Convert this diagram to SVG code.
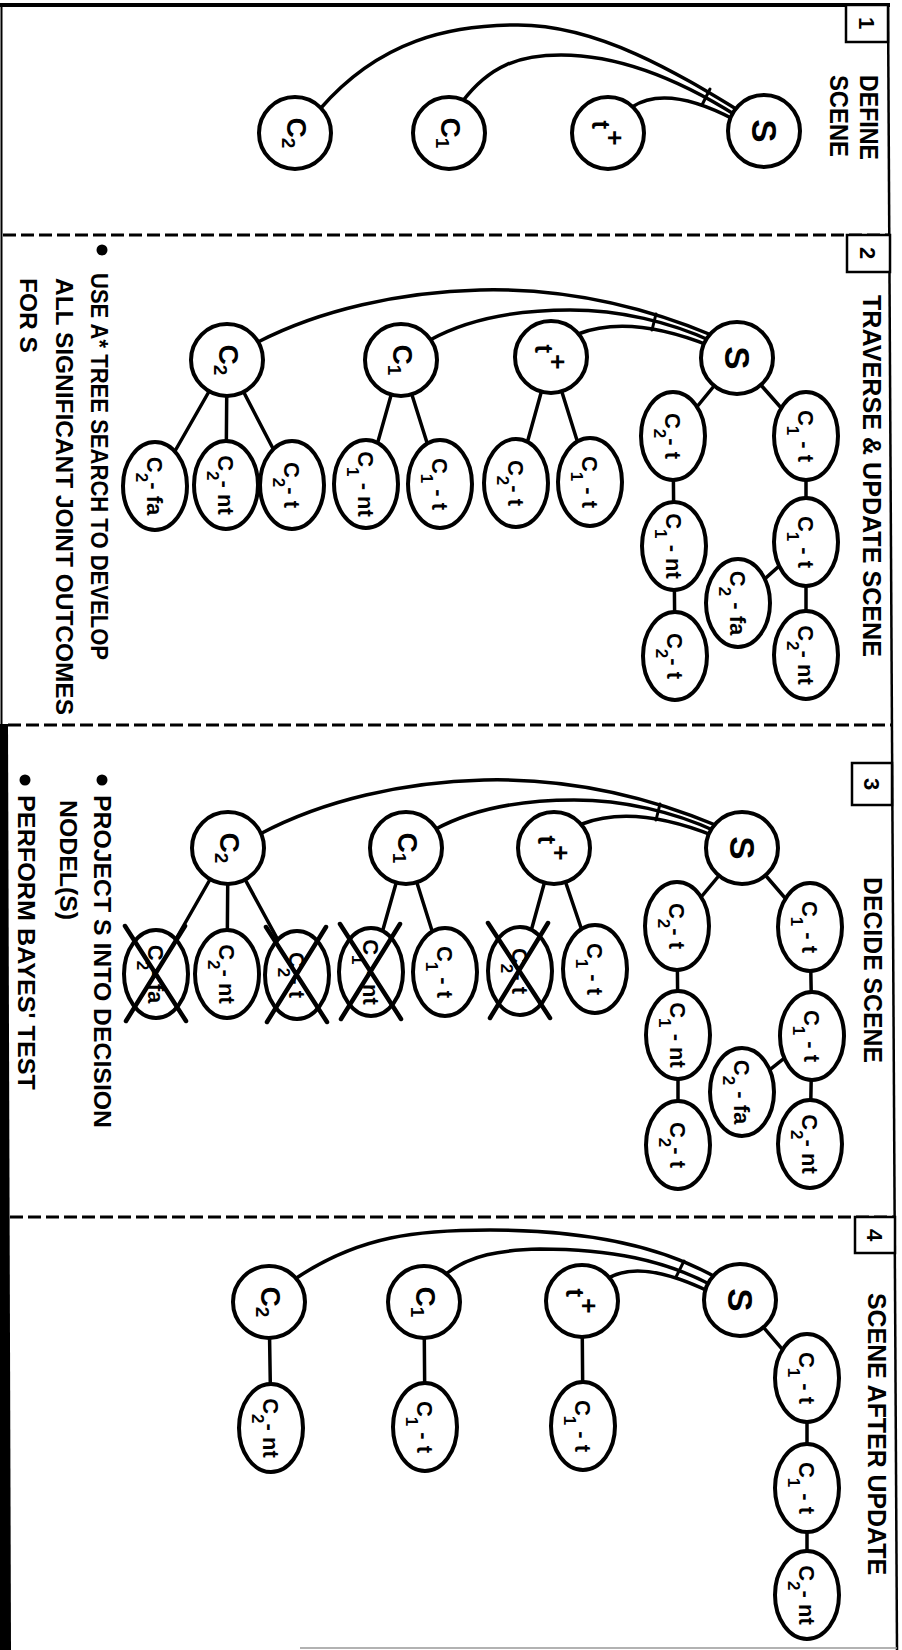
<svg xmlns="http://www.w3.org/2000/svg" width="902" height="1650" viewBox="0 0 902 1650">
<defs>
<style>
.frame{fill:none;stroke:#000;stroke-width:2.5}
.dash{fill:none;stroke:#000;stroke-width:3.2;stroke-dasharray:13 5}
.box{fill:#fff;stroke:#000;stroke-width:2.5}
.e{fill:none;stroke:#000;stroke-width:3.5;stroke-linecap:round}
.n{fill:#fff;stroke:#000;stroke-width:4}
.x{fill:none;stroke:#000;stroke-width:4.5;stroke-linecap:round}
text{font-family:"Liberation Sans",Arial,Helvetica,sans-serif;font-weight:bold;fill:#000}
.h{font-size:25px}
.b{font-size:24px}
.num{font-size:22px}
.big{font-size:28px}
.tp{font-size:26px}
.s{font-size:35px}
.sm{font-size:22px}
.sub{font-size:17px}
.bsub{font-size:19px}
</style>
</defs>
<rect width="902" height="1650" fill="#fff"/>

<g id="frame">
<line class="frame" x1="0" y1="5" x2="890" y2="5" style="stroke-width:4"/>
<line class="frame" x1="888" y1="3" x2="897" y2="1650"/>
<line class="frame" x1="1.5" y1="3" x2="1.5" y2="724" style="stroke-width:2"/>
<path d="M0 724 L8 724 L11 1650 L0 1650 Z" fill="#000"/>
<line x1="300" y1="1648" x2="897" y2="1648" stroke="#999" stroke-width="1.5"/>
<line class="dash" x1="3" y1="235" x2="889" y2="235"/>
<line class="dash" x1="8" y1="725" x2="892" y2="725"/>
<line class="dash" x1="10" y1="1217" x2="894" y2="1217"/>
</g>

<g id="titles">
<rect class="box" x="846" y="5" width="42" height="37"/>
<text class="num" text-anchor="middle" transform="translate(867,23) rotate(90)" y="8">1</text>
<rect class="box" x="847" y="235" width="43" height="37"/>
<text class="num" text-anchor="middle" transform="translate(868,253) rotate(90)" y="8">2</text>
<rect class="box" x="852" y="763" width="40" height="42"/>
<text class="num" text-anchor="middle" transform="translate(872,784) rotate(90)" y="8">3</text>
<rect class="box" x="855" y="1217" width="40" height="36"/>
<text class="num" text-anchor="middle" transform="translate(875,1235) rotate(90)" y="8">4</text>
<text class="h" transform="translate(869,75) rotate(90)" y="9" textLength="85" lengthAdjust="spacingAndGlyphs">DEFINE</text>
<text class="h" transform="translate(839,75) rotate(90)" y="9" textLength="82" lengthAdjust="spacingAndGlyphs">SCENE</text>
<text class="h" transform="translate(872,295) rotate(90)" y="9" textLength="362" lengthAdjust="spacingAndGlyphs">TRAVERSE &amp; UPDATE SCENE</text>
<text class="h" transform="translate(873,877) rotate(90)" y="9" textLength="186" lengthAdjust="spacingAndGlyphs">DECIDE SCENE</text>
<text class="h" transform="translate(877,1293) rotate(90)" y="9" textLength="282" lengthAdjust="spacingAndGlyphs">SCENE AFTER UPDATE</text>
</g>

<g id="notes">
<circle cx="102" cy="250" r="5.5" fill="#000"/>
<text class="b" transform="translate(100,273) rotate(90)" y="9" textLength="387" lengthAdjust="spacingAndGlyphs">USE A* TREE SEARCH TO DEVELOP</text>
<text class="b" transform="translate(65,278) rotate(90)" y="9" textLength="437" lengthAdjust="spacingAndGlyphs">ALL SIGNIFICANT JOINT OUTCOMES</text>
<text class="b" transform="translate(29,278) rotate(90)" y="9" textLength="75" lengthAdjust="spacingAndGlyphs">FOR S</text>
<circle cx="102" cy="780" r="5.5" fill="#000"/>
<text class="b" transform="translate(103,795) rotate(90)" y="9" textLength="333" lengthAdjust="spacingAndGlyphs">PROJECT S INTO DECISION</text>
<text class="b" transform="translate(69,800) rotate(90)" y="9" textLength="120" lengthAdjust="spacingAndGlyphs">NODEL(S)</text>
<circle cx="25" cy="780" r="5.5" fill="#000"/>
<text class="b" transform="translate(27,795) rotate(90)" y="9" textLength="295" lengthAdjust="spacingAndGlyphs">PERFORM BAYES' TEST</text>
</g>

<g id="connectors">
<!-- panel 1 -->
<path class="e" d="M320 109 C380 40 450 25 518 25 C600 25 682 76 741 112"/>
<path class="e" d="M462 102 C490 65 520 55 561 55 C620 55 680 80 737 116"/>
<path class="e" d="M632 107 Q667 84 735 120"/>
<line class="e" x1="702" y1="105" x2="710" y2="89" style="stroke-width:3"/>
<!-- panel 2 -->
<path class="e" d="M258 342 C320 310 400 292 480 290 C560 288 640 305 714 336"/>
<path class="e" d="M430 340 C470 318 520 310 570 310 C620 310 670 322 711 341"/>
<path class="e" d="M578 334 Q630 314 710 346"/>
<line class="e" x1="652" y1="330" x2="656" y2="314" style="stroke-width:3"/>
<line class="e" x1="737" y1="358" x2="806" y2="436"/>
<line class="e" x1="737" y1="358" x2="673" y2="436"/>
<line class="e" x1="806" y1="436" x2="806" y2="542"/>
<line class="e" x1="806" y1="542" x2="806" y2="655"/>
<line class="e" x1="806" y1="542" x2="738" y2="603"/>
<line class="e" x1="673" y1="436" x2="674" y2="546"/>
<line class="e" x1="674" y1="546" x2="675" y2="656"/>
<line class="e" x1="551" y1="357" x2="590" y2="482"/>
<line class="e" x1="551" y1="357" x2="516" y2="483"/>
<line class="e" x1="401" y1="360" x2="440" y2="484"/>
<line class="e" x1="401" y1="360" x2="366" y2="484"/>
<line class="e" x1="227" y1="360" x2="292" y2="485"/>
<line class="e" x1="227" y1="360" x2="226" y2="485"/>
<line class="e" x1="227" y1="360" x2="155" y2="486"/>
<!-- panel 3 -->
<path class="e" d="M260 834 C324 800 404 782 484 780 C564 778 644 795 718 826"/>
<path class="e" d="M434 830 C474 808 524 800 574 800 C624 800 674 812 715 831"/>
<path class="e" d="M582 824 Q634 804 714 836"/>
<line class="e" x1="656" y1="820" x2="660" y2="804" style="stroke-width:3"/>
<line class="e" x1="742" y1="848" x2="810" y2="927"/>
<line class="e" x1="742" y1="848" x2="677" y2="926"/>
<line class="e" x1="810" y1="927" x2="812" y2="1036"/>
<line class="e" x1="812" y1="1036" x2="810" y2="1144"/>
<line class="e" x1="812" y1="1036" x2="742" y2="1092"/>
<line class="e" x1="677" y1="926" x2="678" y2="1035"/>
<line class="e" x1="678" y1="1035" x2="678" y2="1145"/>
<line class="e" x1="554" y1="848" x2="595" y2="969"/>
<line class="e" x1="554" y1="848" x2="520" y2="971"/>
<line class="e" x1="406" y1="848" x2="445" y2="972"/>
<line class="e" x1="406" y1="848" x2="371" y2="972"/>
<line class="e" x1="228" y1="848" x2="297" y2="975"/>
<line class="e" x1="228" y1="848" x2="227" y2="974"/>
<line class="e" x1="228" y1="848" x2="156" y2="974"/>
<!-- panel 4 -->
<path class="e" d="M295 1279 C360 1235 420 1230 490 1230 C580 1230 660 1245 717 1278"/>
<path class="e" d="M446 1274 C470 1255 500 1250 540 1249 C610 1249 665 1260 713 1286"/>
<path class="e" d="M607 1279 Q640 1258 710 1292"/>
<line class="e" x1="676" y1="1277" x2="684" y2="1261" style="stroke-width:3"/>
<line class="e" x1="740" y1="1300" x2="807" y2="1378"/>
<line class="e" x1="807" y1="1378" x2="807" y2="1488"/>
<line class="e" x1="807" y1="1488" x2="807" y2="1595"/>
<line class="e" x1="582" y1="1301" x2="583" y2="1426"/>
<line class="e" x1="424" y1="1302" x2="425" y2="1427"/>
<line class="e" x1="269" y1="1302" x2="271" y2="1428"/>
</g>

<!-- Panel 1 nodes -->
<g id="p1-S"><circle class="n" cx="764" cy="131" r="36"/><text class="s" text-anchor="middle" transform="translate(764,131) rotate(90)" y="12">S</text></g>
<g id="p1-tplus"><circle class="n" cx="608" cy="133" r="36"/><text class="tp" text-anchor="middle" transform="translate(608,133) rotate(90)" y="16">t<tspan dx="1" dy="-14">+</tspan></text></g>
<g id="p1-C1"><circle class="n" cx="449" cy="133" r="36"/><text class="big" text-anchor="middle" transform="translate(449,133) rotate(90)" y="8">C<tspan class="bsub" dy="5">1</tspan></text></g>
<g id="p1-C2"><circle class="n" cx="295" cy="133" r="36"/><text class="big" text-anchor="middle" transform="translate(295,133) rotate(90)" y="8">C<tspan class="bsub" dy="5">2</tspan></text></g>

<!-- Panel 2 nodes -->
<g id="p2-S"><circle class="n" cx="737" cy="358" r="36"/><text class="s" text-anchor="middle" transform="translate(737,358) rotate(90)" y="12">S</text></g>
<g id="p2-tplus"><circle class="n" cx="551" cy="357" r="36"/><text class="tp" text-anchor="middle" transform="translate(551,357) rotate(90)" y="16">t<tspan dx="1" dy="-14">+</tspan></text></g>
<g id="p2-C1"><circle class="n" cx="401" cy="360" r="36"/><text class="big" text-anchor="middle" transform="translate(401,360) rotate(90)" y="8">C<tspan class="bsub" dy="5">1</tspan></text></g>
<g id="p2-C2"><circle class="n" cx="227" cy="360" r="36"/><text class="big" text-anchor="middle" transform="translate(227,360) rotate(90)" y="8">C<tspan class="bsub" dy="5">2</tspan></text></g>
<g id="p2-S-c1t"><ellipse class="n" cx="806" cy="436" rx="32" ry="44"/><text class="sm" text-anchor="middle" transform="translate(806,436) rotate(90)" y="8">C<tspan class="sub" dy="11">1</tspan><tspan dy="-11">&#160;- t</tspan></text></g>
<g id="p2-S-c1t-2"><ellipse class="n" cx="806" cy="542" rx="32" ry="44"/><text class="sm" text-anchor="middle" transform="translate(806,542) rotate(90)" y="8">C<tspan class="sub" dy="11">1</tspan><tspan dy="-11">&#160;- t</tspan></text></g>
<g id="p2-S-c2nt"><ellipse class="n" cx="806" cy="655" rx="32" ry="44"/><text class="sm" text-anchor="middle" transform="translate(806,655) rotate(90)" y="8">C<tspan class="sub" dy="11">2</tspan><tspan dy="-11">- nt</tspan></text></g>
<g id="p2-S-c2fa"><ellipse class="n" cx="738" cy="603" rx="32" ry="44"/><text class="sm" text-anchor="middle" transform="translate(738,603) rotate(90)" y="8">C<tspan class="sub" dy="11">2</tspan><tspan dy="-11">&#160;- fa</tspan></text></g>
<g id="p2-S-c2t"><ellipse class="n" cx="673" cy="436" rx="32" ry="44"/><text class="sm" text-anchor="middle" transform="translate(673,436) rotate(90)" y="8">C<tspan class="sub" dy="11">2</tspan><tspan dy="-11">- t</tspan></text></g>
<g id="p2-S-c1nt"><ellipse class="n" cx="674" cy="546" rx="32" ry="44"/><text class="sm" text-anchor="middle" transform="translate(674,546) rotate(90)" y="8">C<tspan class="sub" dy="11">1</tspan><tspan dy="-11">&#160;- nt</tspan></text></g>
<g id="p2-S-c2t-2"><ellipse class="n" cx="675" cy="656" rx="32" ry="44"/><text class="sm" text-anchor="middle" transform="translate(675,656) rotate(90)" y="8">C<tspan class="sub" dy="11">2</tspan><tspan dy="-11">- t</tspan></text></g>
<g id="p2-t-c1t"><ellipse class="n" cx="590" cy="482" rx="32" ry="44"/><text class="sm" text-anchor="middle" transform="translate(590,482) rotate(90)" y="8">C<tspan class="sub" dy="11">1</tspan><tspan dy="-11">&#160;- t</tspan></text></g>
<g id="p2-t-c2t"><ellipse class="n" cx="516" cy="483" rx="32" ry="44"/><text class="sm" text-anchor="middle" transform="translate(516,483) rotate(90)" y="8">C<tspan class="sub" dy="11">2</tspan><tspan dy="-11">- t</tspan></text></g>
<g id="p2-C1-c1t"><ellipse class="n" cx="440" cy="484" rx="32" ry="44"/><text class="sm" text-anchor="middle" transform="translate(440,484) rotate(90)" y="8">C<tspan class="sub" dy="11">1</tspan><tspan dy="-11">&#160;- t</tspan></text></g>
<g id="p2-C1-c1nt"><ellipse class="n" cx="366" cy="484" rx="32" ry="44"/><text class="sm" text-anchor="middle" transform="translate(366,484) rotate(90)" y="8">C<tspan class="sub" dy="11">1</tspan><tspan dy="-11">&#160;- nt</tspan></text></g>
<g id="p2-C2-c2t"><ellipse class="n" cx="292" cy="485" rx="32" ry="44"/><text class="sm" text-anchor="middle" transform="translate(292,485) rotate(90)" y="8">C<tspan class="sub" dy="11">2</tspan><tspan dy="-11">- t</tspan></text></g>
<g id="p2-C2-c2nt"><ellipse class="n" cx="226" cy="485" rx="32" ry="44"/><text class="sm" text-anchor="middle" transform="translate(226,485) rotate(90)" y="8">C<tspan class="sub" dy="11">2</tspan><tspan dy="-11">- nt</tspan></text></g>
<g id="p2-C2-c2fa"><ellipse class="n" cx="155" cy="486" rx="32" ry="44"/><text class="sm" text-anchor="middle" transform="translate(155,486) rotate(90)" y="8">C<tspan class="sub" dy="11">2</tspan><tspan dy="-11">- fa</tspan></text></g>

<!-- Panel 3 nodes -->
<g id="p3-S"><circle class="n" cx="742" cy="848" r="36"/><text class="s" text-anchor="middle" transform="translate(742,848) rotate(90)" y="12">S</text></g>
<g id="p3-tplus"><circle class="n" cx="554" cy="848" r="36"/><text class="tp" text-anchor="middle" transform="translate(554,848) rotate(90)" y="16">t<tspan dx="1" dy="-14">+</tspan></text></g>
<g id="p3-C1"><circle class="n" cx="406" cy="848" r="36"/><text class="big" text-anchor="middle" transform="translate(406,848) rotate(90)" y="8">C<tspan class="bsub" dy="5">1</tspan></text></g>
<g id="p3-C2"><circle class="n" cx="228" cy="848" r="36"/><text class="big" text-anchor="middle" transform="translate(228,848) rotate(90)" y="8">C<tspan class="bsub" dy="5">2</tspan></text></g>
<g id="p3-S-c1t"><ellipse class="n" cx="810" cy="927" rx="32" ry="44"/><text class="sm" text-anchor="middle" transform="translate(810,927) rotate(90)" y="8">C<tspan class="sub" dy="11">1</tspan><tspan dy="-11">&#160;- t</tspan></text></g>
<g id="p3-S-c1t-2"><ellipse class="n" cx="812" cy="1036" rx="32" ry="44"/><text class="sm" text-anchor="middle" transform="translate(812,1036) rotate(90)" y="8">C<tspan class="sub" dy="11">1</tspan><tspan dy="-11">&#160;- t</tspan></text></g>
<g id="p3-S-c2nt"><ellipse class="n" cx="810" cy="1144" rx="32" ry="44"/><text class="sm" text-anchor="middle" transform="translate(810,1144) rotate(90)" y="8">C<tspan class="sub" dy="11">2</tspan><tspan dy="-11">- nt</tspan></text></g>
<g id="p3-S-c2fa"><ellipse class="n" cx="742" cy="1092" rx="32" ry="44"/><text class="sm" text-anchor="middle" transform="translate(742,1092) rotate(90)" y="8">C<tspan class="sub" dy="11">2</tspan><tspan dy="-11">&#160;- fa</tspan></text></g>
<g id="p3-S-c2t"><ellipse class="n" cx="677" cy="926" rx="32" ry="44"/><text class="sm" text-anchor="middle" transform="translate(677,926) rotate(90)" y="8">C<tspan class="sub" dy="11">2</tspan><tspan dy="-11">- t</tspan></text></g>
<g id="p3-S-c1nt"><ellipse class="n" cx="678" cy="1035" rx="32" ry="44"/><text class="sm" text-anchor="middle" transform="translate(678,1035) rotate(90)" y="8">C<tspan class="sub" dy="11">1</tspan><tspan dy="-11">&#160;- nt</tspan></text></g>
<g id="p3-S-c2t-2"><ellipse class="n" cx="678" cy="1145" rx="32" ry="44"/><text class="sm" text-anchor="middle" transform="translate(678,1145) rotate(90)" y="8">C<tspan class="sub" dy="11">2</tspan><tspan dy="-11">- t</tspan></text></g>
<g id="p3-t-c1t"><ellipse class="n" cx="595" cy="969" rx="32" ry="44"/><text class="sm" text-anchor="middle" transform="translate(595,969) rotate(90)" y="8">C<tspan class="sub" dy="11">1</tspan><tspan dy="-11">&#160;- t</tspan></text></g>
<g id="p3-t-c2t"><ellipse class="n" cx="520" cy="971" rx="32" ry="44"/><text class="sm" text-anchor="middle" transform="translate(520,971) rotate(90)" y="8">C<tspan class="sub" dy="11">2</tspan><tspan dy="-11">- t</tspan></text><path class="x" d="M488 923 L550 1018 M548 923 L490 1018"/></g>
<g id="p3-C1-c1t"><ellipse class="n" cx="445" cy="972" rx="32" ry="44"/><text class="sm" text-anchor="middle" transform="translate(445,972) rotate(90)" y="8">C<tspan class="sub" dy="11">1</tspan><tspan dy="-11">&#160;- t</tspan></text></g>
<g id="p3-C1-c1nt"><ellipse class="n" cx="371" cy="972" rx="32" ry="44"/><text class="sm" text-anchor="middle" transform="translate(371,972) rotate(90)" y="8">C<tspan class="sub" dy="11">1</tspan><tspan dy="-11">&#160;- nt</tspan></text><path class="x" d="M340 924 L401 1019 M400 924 L341 1019"/></g>
<g id="p3-C2-c2t"><ellipse class="n" cx="297" cy="975" rx="32" ry="44"/><text class="sm" text-anchor="middle" transform="translate(297,975) rotate(90)" y="8">C<tspan class="sub" dy="11">2</tspan><tspan dy="-11">- t</tspan></text><path class="x" d="M266 927 L327 1022 M326 927 L267 1022"/></g>
<g id="p3-C2-c2nt"><ellipse class="n" cx="227" cy="974" rx="32" ry="44"/><text class="sm" text-anchor="middle" transform="translate(227,974) rotate(90)" y="8">C<tspan class="sub" dy="11">2</tspan><tspan dy="-11">- nt</tspan></text></g>
<g id="p3-C2-c2fa"><ellipse class="n" cx="156" cy="974" rx="32" ry="44"/><text class="sm" text-anchor="middle" transform="translate(156,974) rotate(90)" y="8">C<tspan class="sub" dy="11">2</tspan><tspan dy="-11">- fa</tspan></text><path class="x" d="M125 926 L186 1021 M185 926 L126 1021"/></g>

<!-- Panel 4 nodes -->
<g id="p4-S"><circle class="n" cx="740" cy="1300" r="36"/><text class="s" text-anchor="middle" transform="translate(740,1300) rotate(90)" y="12">S</text></g>
<g id="p4-tplus"><circle class="n" cx="582" cy="1301" r="36"/><text class="tp" text-anchor="middle" transform="translate(582,1301) rotate(90)" y="16">t<tspan dx="1" dy="-14">+</tspan></text></g>
<g id="p4-C1"><circle class="n" cx="424" cy="1302" r="36"/><text class="big" text-anchor="middle" transform="translate(424,1302) rotate(90)" y="8">C<tspan class="bsub" dy="5">1</tspan></text></g>
<g id="p4-C2"><circle class="n" cx="269" cy="1302" r="36"/><text class="big" text-anchor="middle" transform="translate(269,1302) rotate(90)" y="8">C<tspan class="bsub" dy="5">2</tspan></text></g>
<g id="p4-S-c1t"><ellipse class="n" cx="807" cy="1378" rx="32" ry="44"/><text class="sm" text-anchor="middle" transform="translate(807,1378) rotate(90)" y="8">C<tspan class="sub" dy="11">1</tspan><tspan dy="-11">&#160;- t</tspan></text></g>
<g id="p4-S-c1t-2"><ellipse class="n" cx="807" cy="1488" rx="32" ry="44"/><text class="sm" text-anchor="middle" transform="translate(807,1488) rotate(90)" y="8">C<tspan class="sub" dy="11">1</tspan><tspan dy="-11">&#160;- t</tspan></text></g>
<g id="p4-S-c2nt"><ellipse class="n" cx="807" cy="1595" rx="32" ry="44"/><text class="sm" text-anchor="middle" transform="translate(807,1595) rotate(90)" y="8">C<tspan class="sub" dy="11">2</tspan><tspan dy="-11">- nt</tspan></text></g>
<g id="p4-t-c1t"><ellipse class="n" cx="583" cy="1426" rx="32" ry="44"/><text class="sm" text-anchor="middle" transform="translate(583,1426) rotate(90)" y="8">C<tspan class="sub" dy="11">1</tspan><tspan dy="-11">&#160;- t</tspan></text></g>
<g id="p4-C1-c1t"><ellipse class="n" cx="425" cy="1427" rx="32" ry="44"/><text class="sm" text-anchor="middle" transform="translate(425,1427) rotate(90)" y="8">C<tspan class="sub" dy="11">1</tspan><tspan dy="-11">&#160;- t</tspan></text></g>
<g id="p4-C2-c2nt"><ellipse class="n" cx="271" cy="1428" rx="32" ry="44"/><text class="sm" text-anchor="middle" transform="translate(271,1428) rotate(90)" y="8">C<tspan class="sub" dy="11">2</tspan><tspan dy="-11">- nt</tspan></text></g>
</svg>
